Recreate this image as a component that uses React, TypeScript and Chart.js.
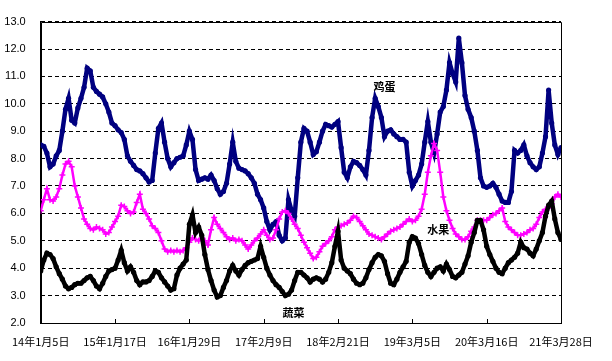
import React, { useEffect, useRef } from 'react';
import { Chart, registerables } from 'chart.js';

Chart.register(...registerables);

// x tick labels (one every 24 points)
const tickLabels = ['14年1月5日', '15年1月17日', '16年1月29日', '17年2月9日', '18年2月21日', '19年3月5日', '20年3月16日', '21年3月28日'];
const pointsPerTick = 24;

const seriesNames = ['鸡蛋', '水果', '蔬菜'];

// 鸡蛋 (eggs)
const egg = [
  8.5, 8.45, 8.2, 7.7, 7.8, 8.1, 8.3, 9.0, 9.8, 10.2,
  9.4, 9.3, 9.85, 10.2, 10.6, 11.3, 11.2, 10.6, 10.45, 10.35,
  10.25, 10.0, 9.7, 9.3, 9.2, 9.05, 8.95, 8.7, 8.1, 7.9,
  7.75, 7.6, 7.55, 7.45, 7.3, 7.15, 7.2, 8.2, 9.1, 9.3,
  8.6, 8.0, 7.7, 7.85, 8.0, 8.05, 8.1, 8.5, 9.0, 8.7,
  7.6, 7.2, 7.25, 7.3, 7.25, 7.4, 7.2, 6.9, 6.7, 6.8,
  7.1, 7.8, 8.6, 7.9, 7.65, 7.6, 7.55, 7.45, 7.3, 7.1,
  6.7, 6.5, 6.2, 5.7, 5.4, 5.6, 5.7, 5.2, 5.0, 5.1,
  6.5, 6.1, 5.9, 7.3, 8.6, 9.1, 9.0, 8.6, 8.15, 8.25,
  8.6, 9.0, 9.25, 9.2, 9.15, 9.25, 9.35, 8.4, 7.5, 7.3,
  7.7, 7.9, 7.85, 7.75, 7.6, 7.4, 8.3, 9.5, 10.2, 9.9,
  9.5, 8.8, 9.0, 9.05, 8.9, 8.8, 8.7, 8.7, 8.6, 7.5,
  7.0, 7.2, 7.4, 7.8, 8.6, 9.35, 8.6, 8.2, 8.9, 9.7,
  9.9, 10.5, 11.5, 11.1, 10.8, 12.4, 11.5, 10.3, 9.8, 9.5,
  9.0, 8.3, 7.3, 7.0, 6.95, 7.0, 7.1, 6.95, 6.7, 6.45,
  6.4, 6.4, 6.8, 8.3, 8.2, 8.3, 8.5, 8.1, 7.85, 7.7,
  7.6, 7.7, 8.2, 8.8, 10.5, 9.3, 8.5, 8.15, 8.4,
];

// 水果 (fruit)
const fruit = [
  6.1, 6.5, 6.9, 6.5, 6.45, 6.6, 6.9, 7.4, 7.8, 7.9,
  7.7, 7.0, 6.6, 6.2, 5.8, 5.6, 5.45, 5.4, 5.5, 5.45,
  5.4, 5.25, 5.3, 5.5, 5.7, 5.9, 6.3, 6.25, 6.1, 6.0,
  6.05, 6.4, 6.7, 6.15, 6.0, 5.8, 5.55, 5.45, 5.3, 5.0,
  4.7, 4.6, 4.65, 4.6, 4.65, 4.6, 4.65, 4.75, 4.95, 5.1,
  5.05, 5.0, 5.1, 5.0, 4.85, 5.4, 5.85, 5.6, 5.45, 5.3,
  5.15, 5.05, 5.1, 5.0, 5.05, 5.0, 4.85, 4.7, 4.85, 5.0,
  5.1, 5.25, 5.4, 5.2, 5.05, 5.1, 5.4, 5.8, 6.05, 6.1,
  6.0, 5.8, 5.6, 5.45, 5.2, 4.95, 4.75, 4.55, 4.35, 4.4,
  4.6, 4.8, 4.9, 5.0, 5.15, 5.4, 5.5, 5.55, 5.6, 5.65,
  5.75, 5.9, 5.85, 5.7, 5.55, 5.4, 5.25, 5.2, 5.15, 5.1,
  5.05, 5.15, 5.25, 5.35, 5.4, 5.45, 5.5, 5.6, 5.7, 5.8,
  5.7, 5.75, 5.9, 6.15, 6.7, 7.5, 8.1, 8.55, 8.3, 7.5,
  6.6, 6.1, 5.75, 5.45, 5.25, 5.15, 5.05, 5.05, 5.15, 5.35,
  5.5, 5.75, 5.75, 5.75, 5.75, 5.85, 5.95, 6.0, 6.1, 6.2,
  5.7, 5.5, 5.4, 5.3, 5.2, 5.2, 5.25, 5.3, 5.4, 5.45,
  5.6, 5.85, 6.05, 6.15, 6.2, 6.35, 6.6, 6.7, 6.6,
];

// 蔬菜 (vegetables)
const veg = [
  3.9, 4.3, 4.55, 4.5, 4.35, 4.05, 3.8, 3.6, 3.35, 3.25,
  3.3, 3.4, 3.45, 3.45, 3.55, 3.65, 3.7, 3.55, 3.35, 3.25,
  3.45, 3.7, 3.9, 3.95, 4.0, 4.3, 4.65, 4.2, 3.9, 4.05,
  3.85, 3.55, 3.4, 3.5, 3.5, 3.55, 3.7, 3.9, 3.85, 3.65,
  3.5, 3.35, 3.2, 3.25, 3.75, 4.0, 4.15, 4.3, 5.6, 5.95,
  5.3, 5.5, 5.2, 4.5, 3.95, 3.55, 3.2, 2.95, 3.0, 3.3,
  3.55, 3.9, 4.1, 3.9, 3.75, 3.95, 4.1, 4.2, 4.25, 4.3,
  4.35, 4.8, 4.4, 4.0, 3.75, 3.55, 3.4, 3.3, 3.15, 3.0,
  3.05, 3.2, 3.55, 3.85, 3.85, 3.75, 3.65, 3.5, 3.6, 3.65,
  3.6, 3.5, 3.6, 3.85, 4.2, 4.8, 5.35, 4.3, 4.0, 3.9,
  3.8, 3.6, 3.45, 3.4, 3.45, 3.65, 3.95, 4.2, 4.4, 4.5,
  4.45, 4.25, 3.8, 3.45, 3.4, 3.6, 3.85, 4.05, 4.25, 4.95,
  5.15, 5.1, 4.9, 4.5, 4.1, 3.85, 3.7, 3.85, 4.0, 4.05,
  3.9, 4.15, 3.95, 3.7, 3.65, 3.75, 3.85, 4.15, 4.45, 4.95,
  5.3, 5.75, 5.75, 5.4, 4.8, 4.5, 4.25, 4.0, 3.85, 3.8,
  4.0, 4.2, 4.3, 4.4, 4.55, 4.95, 4.75, 4.7, 4.55, 4.45,
  4.7, 5.0, 5.3, 5.9, 6.3, 6.45, 5.8, 5.3, 5.05,
];

// annotation anchors in data coordinates (x index, y value)
const nameAnchors = [
  { x: 111, y: 10.63 },
  { x: 128.4, y: 5.4 },
  { x: 81.6, y: 2.39 },
];

const toXY = (arr: number[]) => arr.map((v, i) => ({ x: i, y: v }));

const framePlugin = {
  id: 'frame',
  beforeDatasetsDraw(chart: any) {
    const { ctx, chartArea: a, scales } = chart;
    ctx.save();
    ctx.setLineDash([]);
    ctx.strokeStyle = '#000';
    ctx.lineWidth = 1;
    ctx.beginPath();
    ctx.rect(Math.round(a.left) + 0.5, Math.round(a.top) + 0.5, Math.round(a.right - a.left), Math.round(a.bottom - a.top));
    scales.x.ticks.forEach((t: any) => {
      const px = Math.round(scales.x.getPixelForValue(t.value)) + 0.5;
      ctx.moveTo(px, a.bottom);
      ctx.lineTo(px, a.bottom - 4);
    });
    ctx.stroke();
    ctx.restore();
  },
  afterDraw(chart: any) {
    const { ctx, scales } = chart;
    ctx.save();
    ctx.fillStyle = '#000';
    ctx.font = 'bold 11px "Noto Sans CJK SC", sans-serif';
    ctx.textAlign = 'center';
    ctx.textBaseline = 'middle';
    seriesNames.forEach((n, i) => {
      const p = nameAnchors[i];
      ctx.fillText(n, scales.x.getPixelForValue(p.x), scales.y.getPixelForValue(p.y));
    });
    ctx.restore();
  },
};

export default function App() {
  const ref = useRef<HTMLCanvasElement>(null);
  useEffect(() => {
    document.body.style.margin = '0';
    const canvas = ref.current!;
    const chart = new Chart(canvas, {
      type: 'line',
      data: {
        datasets: [
          {
            label: seriesNames[2],
            data: toXY(veg),
            borderColor: '#000000',
            backgroundColor: '#000000',
            borderWidth: 4.5,
            pointRadius: 2.6,
            pointBorderWidth: 0,
            pointBackgroundColor: '#000000',
            tension: 0,
            order: 0,
          },
          {
            label: seriesNames[1],
            data: toXY(fruit),
            borderColor: '#FF00FF',
            backgroundColor: '#FF00FF',
            borderWidth: 2.5,
            pointStyle: 'cross',
            pointRadius: 3,
            pointBorderWidth: 1.5,
            pointBorderColor: '#FF00FF',
            tension: 0,
            order: 1,
          },
          {
            label: seriesNames[0],
            data: toXY(egg),
            borderColor: '#000080',
            backgroundColor: '#000080',
            borderWidth: 4.5,
            pointRadius: 2.6,
            pointBorderWidth: 0,
            pointBackgroundColor: '#000080',
            tension: 0,
            order: 2,
          },
        ],
      },
      options: {
        animation: false,
        responsive: false,
        devicePixelRatio: 1,
        layout: { padding: { left: 0, top: 16, right: 51, bottom: 0 } },
        plugins: { legend: { display: false }, tooltip: { enabled: false } },
        scales: {
          x: {
            type: 'linear',
            min: 0,
            max: (tickLabels.length - 1) * pointsPerTick,
            afterFit: (s: any) => { s.height = 38; },
            grid: { drawOnChartArea: false, drawTicks: false },
            border: { display: true, color: '#000', width: 1 },
            ticks: {
              stepSize: pointsPerTick,
              autoSkip: false,
              maxRotation: 0,
              padding: 12,
              color: '#000',
              font: { family: '"Noto Sans CJK SC", sans-serif', size: 11 },
              callback: (v: any) => {
                const k = Number(v) / pointsPerTick;
                return Number.isInteger(k) ? tickLabels[k] ?? '' : '';
              },
            },
          },
          y: {
            min: 2,
            max: 13,
            afterFit: (s: any) => { s.width = 37; },
            grid: { color: '#000', lineWidth: 1, drawTicks: false },
            border: { display: true, color: '#000', width: 1, dash: [4, 3] },
            ticks: {
              stepSize: 1,
              padding: 15,
              color: '#000',
              font: { family: '"Liberation Sans Narrow", "Liberation Sans", Arial, sans-serif', size: 11 },
              callback: (v: any) => Number(v).toFixed(1),
            },
          },
        },
      },
      plugins: [framePlugin],
    });
    return () => chart.destroy();
  }, []);
  return (
    <div style={{ position: 'absolute', left: 0, top: 0, width: 612, height: 361 }}>
      <canvas ref={ref} width={612} height={361} style={{ width: 612, height: 361, display: 'block' }} />
    </div>
  );
}
